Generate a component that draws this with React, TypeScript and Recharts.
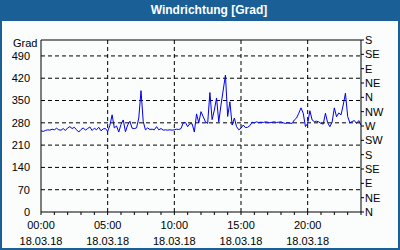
import { CartesianGrid, Line, LineChart, ReferenceLine, XAxis, YAxis } from "recharts"

// Wind direction in degrees, one reading every 10 minutes (18.03.18)
const stepMinutes = 10
const windDir = [
  255, 253, 256, 258, 257, 260, 258, 263, 258, 257,
  262, 256, 264, 268, 262, 266, 258, 251, 259, 264,
  257, 262, 267, 256, 263, 258, 266, 255, 261, 262,
  253, 272, 305, 264, 270, 251, 275, 289, 252, 273,
  285, 263, 262, 264, 295, 381, 284, 258, 264, 259,
  260, 258, 268, 258, 262, 257, 258, 257, 258, 257,
  258, 260, 259, 262, 280, 281, 268, 277, 277, 251,
  308, 280, 315, 299, 283, 278, 375, 290, 320, 358,
  283, 336, 383, 430, 300, 346, 273, 295, 268, 258,
  263, 273, 265, 266, 271, 282, 280, 283, 281, 282,
  281, 283, 282, 280, 282, 283, 281, 282, 283, 280,
  278, 280, 279, 278, 289, 295, 310, 327, 310, 268,
  278, 318, 289, 284, 285, 283, 278, 276, 310, 280,
  268, 282, 327, 299, 311, 305, 336, 373, 300, 280,
  284, 287, 278, 287, 273,
]

const dateLabel = "18.03.18"
const hourTicks = Array.from({ length: 25 }, (_, i) => i)
const majorHours = [5, 10, 15, 20]
const degreeTicks = [0, 70, 140, 210, 280, 350, 420, 490]
const compassTicks = [0, 45, 90, 135, 180, 225, 270, 315, 360, 405, 450, 495, 540]
const compassNames = ["N", "NE", "E", "SE", "S", "SW", "W", "NW", "N", "NE", "E", "SE", "S"]

const data = windDir.map((v, i) => ({ t: (i * stepMinutes) / 60, dir: v }))

const font = "'Liberation Sans', Arial, sans-serif"
const blue = "#1a5f96"

function HourTick(props: any) {
  const { x, y, payload } = props
  if (payload.value % 5 !== 0 || payload.value === 24) return null
  const hh = String(payload.value).padStart(2, "0") + ":00"
  return (
    <g>
      <text x={x} y={y + 12} textAnchor="middle" fontSize={11} fontFamily={font} fill="#000">
        {hh}
      </text>
      <text x={x} y={y + 28} textAnchor="middle" fontSize={11} fontFamily={font} fill="#000">
        {dateLabel}
      </text>
    </g>
  )
}

function CompassTick(props: any) {
  const { x, y, payload } = props
  return (
    <text x={x} y={y + 4} textAnchor="start" fontSize={11} fontFamily={font} fill="#000">
      {compassNames[compassTicks.indexOf(payload.value)]}
    </text>
  )
}

export default function App() {
  return (
    <div style={{ position: "absolute", left: 0, top: 0, width: 400, height: 250, background: blue, fontFamily: font }}>
      <div
        style={{
          position: "absolute",
          left: 0,
          top: 0,
          width: 400,
          height: 21,
          lineHeight: "21px",
          textAlign: "center",
          color: "#fff",
          fontWeight: "bold",
          fontSize: 12,
          paddingLeft: 18,
          boxSizing: "border-box",
        }}
      >
        Windrichtung [Grad]
      </div>
      <div style={{ position: "absolute", left: 2, top: 21, width: 396, height: 227, background: "#fafdfb" }} />
      <div style={{ position: "absolute", left: 13, top: 37, fontSize: 11, lineHeight: "12px", color: "#000" }}>Grad</div>
      <div style={{ position: "absolute", left: 0, top: 0 }}>
        <LineChart width={400} height={250} data={data} margin={{ top: 40, right: 0, bottom: 0, left: 0 }}>
          <CartesianGrid
            yAxisId="left"
            vertical={false}
            horizontalValues={degreeTicks.filter((v) => v > 0)}
            stroke="#000"
            strokeDasharray="4 3"
          />
          {majorHours.map((h) => (
            <ReferenceLine key={h} yAxisId="left" x={h} stroke="#000" strokeDasharray="4 3" />
          ))}
          <ReferenceLine yAxisId="left" y={540} stroke="#000" strokeOpacity={1} />
          <XAxis
            dataKey="t"
            type="number"
            domain={[0, 24]}
            ticks={hourTicks}
            interval={0}
            height={38}
            stroke="#000"
            tickSize={3}
            tickMargin={2}
            tick={<HourTick />}
          />
          <YAxis
            yAxisId="left"
            domain={[0, 540]}
            ticks={degreeTicks}
            interval={0}
            width={41}
            stroke="#000"
            tickLine={false}
            tickMargin={5}
            tick={{ fill: "#000", fontSize: 11, fontFamily: font }}
          />
          <YAxis
            yAxisId="right"
            orientation="right"
            type="number"
            domain={[0, 540]}
            allowDataOverflow
            ticks={compassTicks}
            interval={0}
            width={39}
            stroke="#000"
            tickSize={3}
            tickMargin={1}
            tick={<CompassTick />}
          />
          <Line
            yAxisId="right"
            type="linear"
            dataKey="dir"
            stroke="none"
            dot={false}
            activeDot={false}
            isAnimationActive={false}
          />
          <Line
            yAxisId="left"
            type="linear"
            dataKey="dir"
            stroke="#0000ee"
            strokeWidth={1}
            dot={false}
            isAnimationActive={false}
          />
        </LineChart>
      </div>
    </div>
  )
}
